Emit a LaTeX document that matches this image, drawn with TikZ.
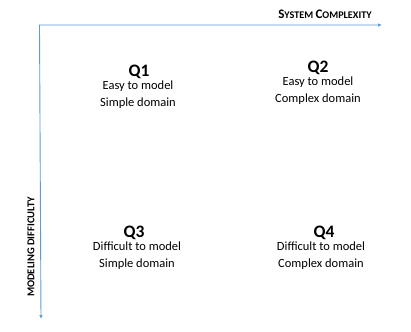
\documentclass[tikz,border=0pt]{standalone}
\usepackage{fontspec}
\setmainfont{Carlito}
\usetikzlibrary{arrows.meta, positioning}

\definecolor{axisblue}{HTML}{5B9BD5}

% fake small caps for the axis title
\newcommand{\smallcap}[2]{{\fontsize{13}{13}\selectfont #1}{\fontsize{10.2}{11}\selectfont #2}}

\begin{document}
\begin{tikzpicture}[
    x=1pt, y=-1pt,
    quad/.style={align=center, font=\fontsize{12.5}{17}\selectfont, inner sep=0pt},
    qtitle/.style={font=\fontsize{17.5}{18}\selectfont\bfseries},
    axis/.style={draw=axisblue, line width=0.9pt, {Latex[length=4pt,width=3.5pt]}-{Latex[length=4pt,width=3.5pt]}}
    ]
    \useasboundingbox (0,0) rectangle (411,331);

    % Axes
    \coordinate (origin) at (39.5,25);
    \coordinate (xend) at (382,25);
    \coordinate (yend) at (41,319);
    \draw[axis] (xend) -- (origin) -- (yend);

    \node[inner sep=0pt, font=\bfseries] (xlabel) at (325,14) {\smallcap{S}{YSTEM} \smallcap{C}{OMPLEXITY}};
    \node[inner sep=0pt, rotate=90, font=\fontsize{10.5}{10.5}\selectfont\bfseries] (ylabel) at (31,247) {MODELING DIFFICULTY};

    % Quadrants
    \node[qtitle, inner sep=0pt] (q1) at (139,72) {Q1};
    \node[quad, below=2pt of q1, xshift=-1pt] (q1text) {Easy to model\\Simple domain};

    \node[qtitle, inner sep=0pt] (q2) at (318,68) {Q2};
    \node[quad, below=2pt of q2] (q2text) {Easy to model\\Complex domain};

    \node[qtitle, inner sep=0pt] (q3) at (134,233) {Q3};
    \node[quad, below=2pt of q3, xshift=3pt] (q3text) {Difficult to model\\Simple domain};

    \node[qtitle, inner sep=0pt] (q4) at (324,233) {Q4};
    \node[quad, below=2pt of q4, xshift=-3pt] (q4text) {Difficult to model\\Complex domain};

\end{tikzpicture}
\end{document}
